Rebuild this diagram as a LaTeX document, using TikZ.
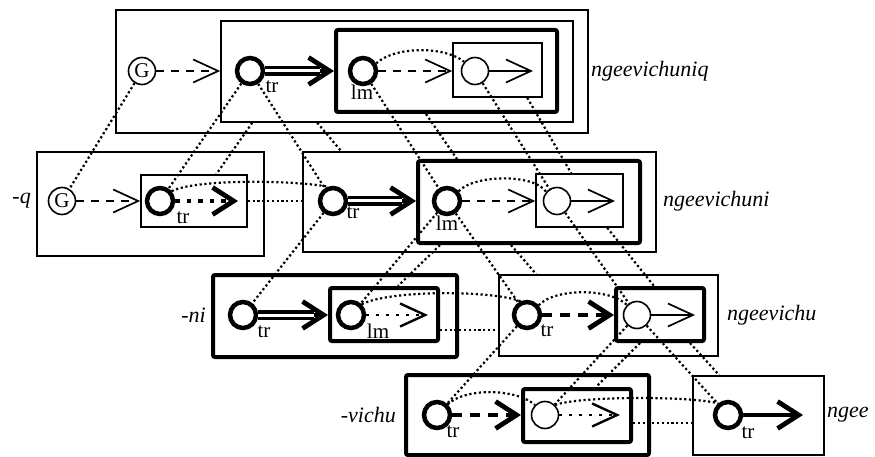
\documentclass[tikz,border=0pt]{standalone}
\usepackage{fontspec}
\setmainfont{Liberation Serif}
\usetikzlibrary{arrows.meta,calc}
\begin{document}
\begin{tikzpicture}[x=1pt,y=-1pt,
  thinbox/.style={draw, line width=1.5pt, inner sep=0pt},
  thickbox/.style={draw, line width=4pt, rounded corners=2pt, inner sep=0pt},
  thincirc/.style={circle, draw, line width=1.6pt, minimum size=27pt, inner sep=0pt, font=\fontsize{21}{24}\selectfont},
  thickcirc/.style={circle, draw, line width=4.5pt, minimum size=26pt, inner sep=0pt},
  corr/.style={line width=2.2pt, dash pattern=on 2.2pt off 2.6pt},
  sidelab/.style={inner sep=0pt, font=\fontsize{22}{26}\selectfont\itshape},
  smlab/.style={inner sep=0pt, font=\fontsize{21}{24}\selectfont},
  thinarr/.style={line width=1.7pt, -{Straight Barb[length=25pt,width=23pt]}},
  thickarr/.style={line width=4.8pt, -{Straight Barb[length=21pt,width=27pt]}},
  thindash/.style={thinarr, dash pattern=on 8pt off 7pt},
  thickdash/.style={thickarr, dash pattern=on 10pt off 8pt},
  thindot/.style={thinarr, line width=2.4pt, dash pattern=on 3pt off 7pt},
  thickdot/.style={thickarr, dash pattern=on 4.5pt off 7pt},
  dblshaft/.style={line width=3.5pt, double=white, double distance=3pt},
]
\useasboundingbox (0,0) rectangle (875,457);

% ---- ngeevichuniq
\node[thinbox, minimum width=472pt, minimum height=123pt] (T0) at (352,71.5) {};
\node[thinbox, minimum width=352pt, minimum height=101pt] (T1) at (397,71.5) {};
\node[thickbox, minimum width=221pt, minimum height=82pt] (T2) at (446.5,71) {};
\node[thinbox, minimum width=89pt, minimum height=54pt] (T3) at (497.5,70) {};
\node[thincirc] (TG) at (142,71) {G};
\node[thickcirc] (Ttr) at (250,71) {};
\node[thickcirc] (Tlm) at (363,71) {};
\node[thincirc] (Tc) at (475,71) {};
\node[smlab] (TtrL) at (272,87) {tr};
\node[smlab] (TlmL) at (362,92) {lm};
\node[sidelab, anchor=west] (L1) at (591,71) {ngeevichuniq};

% ---- -q
\node[thinbox, minimum width=227pt, minimum height=104pt] (Q0) at (150.5,204) {};
\node[thinbox, minimum width=106pt, minimum height=52pt] (Q1) at (194,201) {};
\node[thincirc] (QG) at (62,201) {G};
\node[thickcirc] (Qtr) at (160,201) {};
\node[smlab] (QtrL) at (183,218) {tr};
\node[sidelab, anchor=east] (L2) at (31,201) {-q};

% ---- ngeevichuni
\node[thinbox, minimum width=353pt, minimum height=100pt] (N0) at (479.5,202) {};
\node[thickbox, minimum width=222pt, minimum height=82pt] (N1) at (529,202) {};
\node[thinbox, minimum width=87pt, minimum height=53pt] (N2) at (579.5,200.5) {};
\node[thickcirc] (Ntr) at (333,201) {};
\node[thickcirc] (Nlm) at (447,201) {};
\node[thincirc] (Nc) at (557,201) {};
\node[smlab] (NtrL) at (353,213) {tr};
\node[smlab] (NlmL) at (447,223) {lm};
\node[sidelab, anchor=west] (L3) at (663,201) {ngeevichuni};

% ---- -ni
\node[thickbox, minimum width=244pt, minimum height=82pt] (I0) at (335,316) {};
\node[thickbox, minimum width=108pt, minimum height=53pt] (I1) at (384,314.5) {};
\node[thickcirc] (Itr) at (243,315) {};
\node[thickcirc] (Ilm) at (351,315) {};
\node[smlab] (ItrL) at (264,332) {tr};
\node[smlab] (IlmL) at (378,331) {lm};
\node[sidelab, anchor=east] (L4) at (206,315) {-ni};

% ---- ngeevichu
\node[thinbox, minimum width=219pt, minimum height=81pt] (U0) at (608.5,315.5) {};
\node[thickbox, minimum width=88pt, minimum height=53pt] (U1) at (660,314.5) {};
\node[thickcirc] (Utr) at (527,315) {};
\node[thincirc] (Uc) at (637,315) {};
\node[smlab] (UtrL) at (547,331) {tr};
\node[sidelab, anchor=west] (L5) at (727,315) {ngeevichu};

% ---- -vichu
\node[thickbox, minimum width=243pt, minimum height=80pt] (V0) at (527.5,415) {};
\node[thickbox, minimum width=108pt, minimum height=53pt] (V1) at (577,415.5) {};
\node[thickcirc] (Vtr) at (437,415) {};
\node[thincirc] (Vc) at (545,415) {};
\node[smlab] (VtrL) at (453,432) {tr};
\node[sidelab, anchor=east] (L6) at (396,415) {-vichu};

% ---- ngee
\node[thinbox, minimum width=131pt, minimum height=79pt] (E0) at (758.5,415.5) {};
\node[thickcirc] (Etr) at (728,415) {};
\node[smlab] (EtrL) at (748,433) {tr};
\node[sidelab, anchor=west] (L7) at (827,415) {ngee};

% ---- arrows inside groups
\draw[thindash] (TG) -- (TG -| T1.west);
\draw[thickarr] (Ttr) -- (Ttr -| T2.west);
\draw[dblshaft, shorten >=14pt] (Ttr) -- (Ttr -| T2.west);
\draw[thindash] (Tlm) -- (Tlm -| T3.west);
\coordinate (Tce) at (533,71);
\draw[thinarr] (Tc) -- (Tce);

\draw[thindash] (QG) -- (QG -| Q1.west);
\coordinate (Qte) at (238,201);
\draw[thickdot] (Qtr) -- (Qte);

\draw[thickarr] (Ntr) -- (Ntr -| N1.west);
\draw[dblshaft, shorten >=14pt] (Ntr) -- (Ntr -| N1.west);
\draw[thindash] (Nlm) -- (Nlm -| N2.west);
\coordinate (Nce) at (615,201);
\draw[thinarr] (Nc) -- (Nce);

\draw[thickarr] (Itr) -- (Itr -| I1.west);
\draw[dblshaft, shorten >=14pt] (Itr) -- (Itr -| I1.west);
\coordinate (Ile) at (428,315);
\draw[thindot] (Ilm) -- (Ile);

\draw[thickdash] (Utr) -- (Utr -| U1.west);
\coordinate (Uce) at (695,315);
\draw[thinarr] (Uc) -- (Uce);

\draw[thickdash] (Vtr) -- (Vtr -| V1.west);
\coordinate (Vce) at (620,415);
\draw[thindot] (Vc) -- (Vce);

\coordinate (Ete) at (803,415);
\draw[thickarr] (Etr) -- (Ete);

% ---- correspondence lines
% row 1 -> row 2
\draw[corr] (TG) -- (QG);
\draw[corr] (Ttr) -- (Qtr);
\draw[corr] ([xshift=32pt]T1.south west) -- ([xshift=76pt]Q1.north west);
\draw[corr] (Ttr) -- (Ntr);
\draw[corr] ([xshift=97pt]T1.south west) -- ([xshift=39pt]N0.north west);
\draw[corr] (Tlm) -- (Nlm);
\draw[corr] ([xshift=92pt]T2.south west) -- ([xshift=41pt]N1.north west);
\draw[corr] (Tc) -- (Nc);
\draw[corr] ([xshift=75pt]T3.south west) -- ([xshift=36pt]N2.north west);
\draw[corr] (Tlm.30) .. controls (395,46) and (445,46) .. (Tc.140);
% -q -> ngeevichuni
\draw[corr] (Qtr.40) .. controls (195,179) and (292,180) .. (Ntr.110);
\draw[corr] (Q1.east) -- (Q1.east -| N0.west);
\draw[corr] (Nlm.40) .. controls (475,174) and (535,174) .. (Nc.140);
% ngeevichuni -> row 3
\draw[corr] (Ntr) -- (Itr);
\draw[corr] (Nlm) -- (Ilm);
\draw[corr] ([xshift=24pt]N1.south west) -- ([xshift=70pt]I1.north west);
\draw[corr] (Nlm) -- (Utr);
\draw[corr] ([xshift=95pt]N1.south west) -- ([xshift=38pt]U0.north west);
\draw[corr] (Nc) -- (Uc);
\draw[corr] ([xshift=72pt]N2.south west) -- ([xshift=40pt]U1.north west);
% -ni -> ngeevichu
\draw[corr] (Ilm.45) .. controls (390,290) and (490,290) .. (Utr.115);
\coordinate (It) at ([yshift=-15.5pt]I1.east);
\draw[corr] (It) -- (It -| U0.west);
\draw[corr] (Utr.40) .. controls (555,288) and (610,288) .. (Uc.135);
% ngeevichu -> row 4
\draw[corr] (Utr) -- (Vtr);
\draw[corr] (Uc) -- (Vc);
\draw[corr] ([xshift=26pt]U1.south west) -- ([xshift=75pt]V1.north west);
\draw[corr] (Uc) -- (Etr);
\draw[corr] ([xshift=76pt]U1.south west) -- ([xshift=27pt]E0.north west);
% -vichu -> ngee
\draw[corr] (Vtr.45) .. controls (465,388) and (515,388) .. (Vc.135);
\draw[corr] (Vc.45) .. controls (580,396) and (690,396) .. (Etr.130);
\coordinate (Vt) at ([yshift=-7.5pt]V1.east);
\draw[corr] (Vt) -- (Vt -| E0.west);
\end{tikzpicture}
\end{document}
